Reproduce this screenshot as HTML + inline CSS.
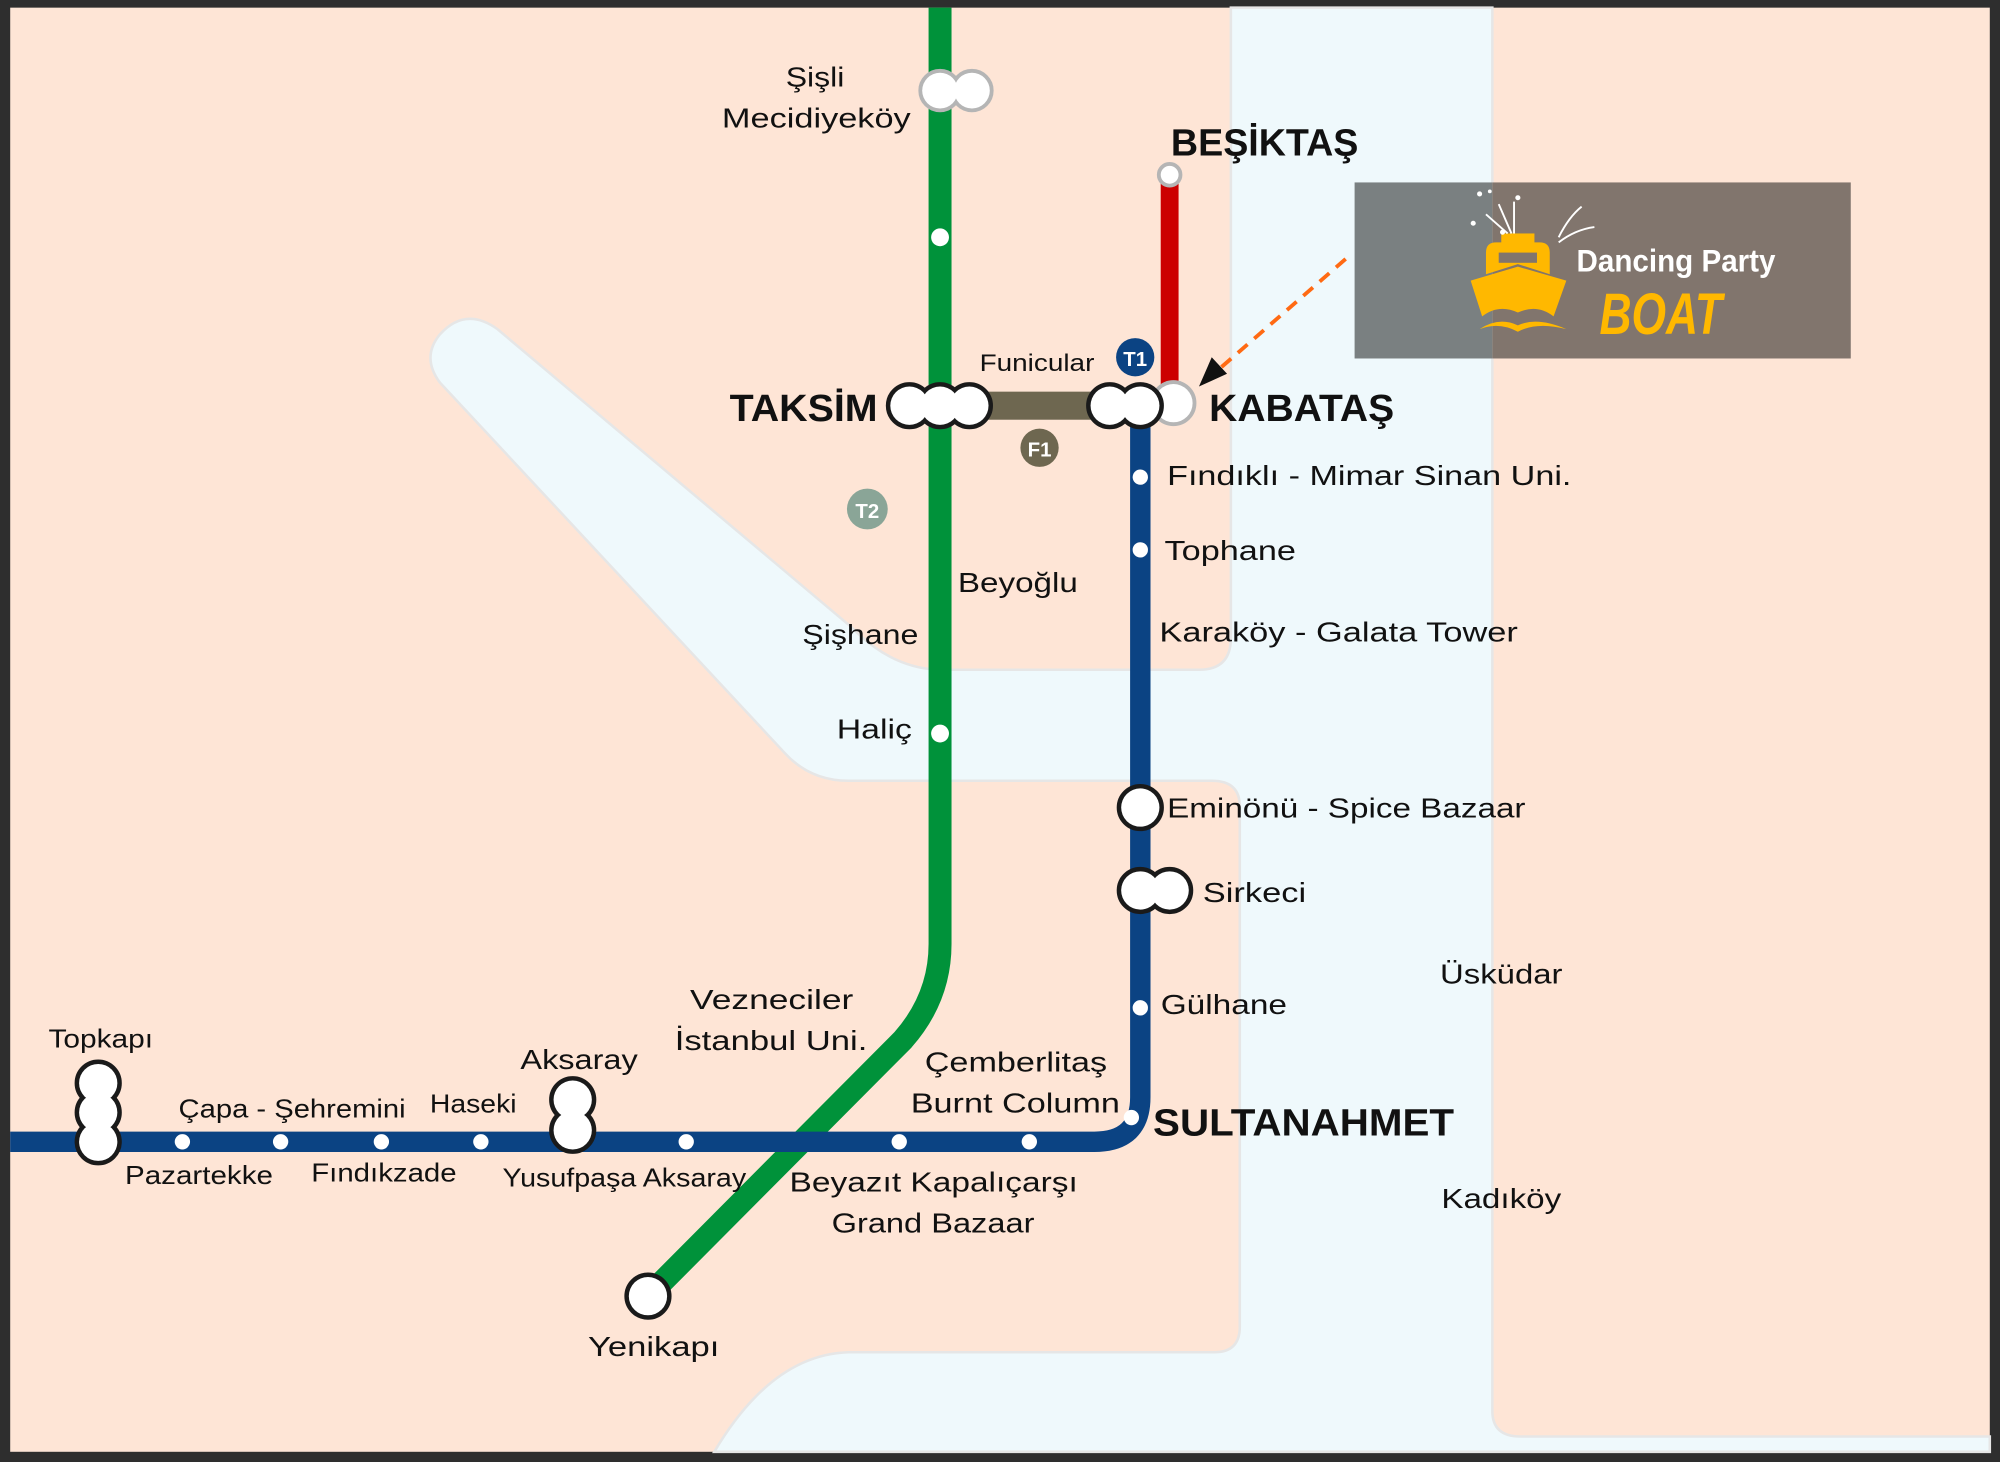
<!DOCTYPE html>
<html><head><meta charset="utf-8"><style>
html,body{margin:0;padding:0;background:#2e2e2e;}
svg{display:block;}
text{font-family:"Liberation Sans","DejaVu Sans",sans-serif;fill:#111;}
</style></head><body>
<svg width="2000" height="1462" viewBox="0 0 1568 1146" preserveAspectRatio="none" xmlns="http://www.w3.org/2000/svg">
<rect x="0" y="0" width="1568" height="1146" fill="#2e2e2e"/>
<rect x="8" y="6" width="1552" height="1132" fill="#fee5d6"/>
<!-- water -->
<path d="M965 6 L1170 6 L1170 1106 Q1170 1126 1192 1126 L1560 1126 L1560 1138 L560 1138 Q605 1062 665 1060 L952 1060 Q972 1060 972 1040 L972 632 Q972 612 950 612 L665 612 Q635 612 615 590 L345 300 Q330 280 345 262 Q365 240 390 258 L668 492 Q698 523 735 525 L940 525 Q965 525 965 500 Z" fill="#eff9fc" stroke="#e6e6e6" stroke-width="2"/>
<!-- lines -->
<path d="M737 6 L737 740 Q737 782 708 815 L508 1016" fill="none" stroke="#00923a" stroke-width="18"/>
<path d="M8 895 L858 895 Q894 895 894 860 L894 318" fill="none" stroke="#0b4383" stroke-width="16"/>
<rect x="910" y="137" width="14" height="178" fill="#cc0000"/>
<rect x="760" y="307" width="112" height="22" fill="#6e6750"/>
<!-- line badges -->
<circle cx="890" cy="280" r="15" fill="#0b4383"/><text x="890" y="287" font-size="16" font-weight="bold" text-anchor="middle" style="fill:#fff">T1</text>
<circle cx="815" cy="351" r="15" fill="#6e6750"/><text x="815" y="358" font-size="16" font-weight="bold" text-anchor="middle" style="fill:#fff">F1</text>
<circle cx="680" cy="399" r="16" fill="#8aa597"/><text x="680" y="406" font-size="16" font-weight="bold" text-anchor="middle" style="fill:#fff">T2</text>
<!-- small stations -->
<g fill="#fff">
<circle cx="737" cy="186" r="7"/><circle cx="737" cy="575" r="7"/>
<circle cx="894" cy="374" r="6"/><circle cx="894" cy="431" r="6"/><circle cx="894" cy="790" r="6"/><circle cx="887" cy="876" r="6"/>
<circle cx="143" cy="895" r="6"/><circle cx="220" cy="895" r="6"/><circle cx="299" cy="895" r="6"/><circle cx="377" cy="895" r="6"/><circle cx="538" cy="895" r="6"/><circle cx="705" cy="895" r="6"/><circle cx="807" cy="895" r="6"/>
</g>
<!-- gray interchanges -->
<g stroke="#b5b5b5" stroke-width="6"><circle cx="737" cy="71" r="14"/><circle cx="762" cy="71" r="14"/><circle cx="920" cy="316" r="15"/><circle cx="917" cy="137" r="7"/></g>
<g fill="#fff"><circle cx="737" cy="71" r="14"/><circle cx="762" cy="71" r="14"/><circle cx="920" cy="316" r="15"/><circle cx="917" cy="137" r="7"/></g>
<!-- black interchanges -->
<g stroke="#1a1a1a" stroke-width="7" fill="#1a1a1a">
<circle cx="713" cy="318" r="15"/><circle cx="737" cy="318" r="15"/><circle cx="760" cy="318" r="15"/>
<circle cx="870" cy="318" r="15"/><circle cx="894" cy="318" r="15"/>
<circle cx="894" cy="633" r="15"/>
<circle cx="894" cy="698" r="15"/><circle cx="917" cy="698" r="15"/>
<circle cx="77" cy="849" r="15"/><circle cx="77" cy="872" r="15"/><circle cx="77" cy="895" r="15"/>
<circle cx="449" cy="862" r="15"/><circle cx="449" cy="886" r="15"/>
<circle cx="508" cy="1016" r="15"/>
</g>
<g fill="#fff">
<circle cx="713" cy="318" r="15"/><circle cx="737" cy="318" r="15"/><circle cx="760" cy="318" r="15"/>
<circle cx="870" cy="318" r="15"/><circle cx="894" cy="318" r="15"/>
<circle cx="894" cy="633" r="15"/>
<circle cx="894" cy="698" r="15"/><circle cx="917" cy="698" r="15"/>
<circle cx="77" cy="849" r="15"/><circle cx="77" cy="872" r="15"/><circle cx="77" cy="895" r="15"/>
<circle cx="449" cy="862" r="15"/><circle cx="449" cy="886" r="15"/>
<circle cx="508" cy="1016" r="15"/>
</g>
<!-- boat box -->
<rect x="1062" y="143" width="108" height="138" fill="#7a8081"/>
<rect x="1170" y="143" width="281" height="138" fill="#81756d"/>
<g fill="#ffb800">
<rect x="1177" y="183" width="26" height="10"/>
<path d="M1165 198 Q1165 190 1173 190 L1207 190 Q1215 190 1215 198 L1215 215 L1190 207 L1165 215 Z"/>
<rect x="1175" y="198" width="30" height="8" fill="#81756d"/>
<path d="M1153 220 L1190 209 L1228 220 L1218 248 Q1205 238 1190 245 Q1175 238 1162 248 Z"/>
<path d="M1160 258 Q1175 248 1190 255 Q1205 248 1228 258 Q1205 252 1190 260 Q1175 252 1160 258 Z"/>
</g>
<g stroke="#fff" stroke-width="1.5" fill="none">
<path d="M1185 183 L1175 160 M1187 183 L1187 158 M1182 183 L1165 168"/>
<path d="M1222 186 Q1230 170 1240 162 M1222 190 Q1235 180 1250 178"/>
</g>
<g fill="#fff"><circle cx="1160" cy="152" r="2"/><circle cx="1190" cy="155" r="2"/><circle cx="1155" cy="175" r="2"/><circle cx="1168" cy="150" r="1.5"/><circle cx="1178" cy="182" r="2"/></g>
<text x="1236" y="213" font-size="25" font-weight="bold" textLength="156" lengthAdjust="spacingAndGlyphs" style="fill:#fff">Dancing Party</text>
<text x="1254" y="262" font-size="46" font-weight="bold" font-style="italic" textLength="96" lengthAdjust="spacingAndGlyphs" style="fill:#ffb800">BOAT</text>
<!-- arrow -->
<line x1="1055" y1="203" x2="955" y2="290" stroke="#ff6a13" stroke-width="3" stroke-dasharray="10,7"/>
<path d="M940 303 L950 280 L962 293 Z" fill="#111"/>
<!-- labels -->
<g font-size="22">
<text x="616" y="68" textLength="46" lengthAdjust="spacingAndGlyphs">Şişli</text>
<text x="566" y="100" textLength="148" lengthAdjust="spacingAndGlyphs">Mecidiyeköy</text>
<text x="768" y="291" font-size="19" textLength="90" lengthAdjust="spacingAndGlyphs">Funicular</text>
<text x="915" y="380" textLength="317" lengthAdjust="spacingAndGlyphs">Fındıklı - Mimar Sinan Uni.</text>
<text x="913" y="439" textLength="103" lengthAdjust="spacingAndGlyphs">Tophane</text>
<text x="751" y="464" textLength="94" lengthAdjust="spacingAndGlyphs">Beyoğlu</text>
<text x="629" y="505" textLength="91" lengthAdjust="spacingAndGlyphs">Şişhane</text>
<text x="909" y="503" textLength="281" lengthAdjust="spacingAndGlyphs">Karaköy - Galata Tower</text>
<text x="656" y="579" textLength="59" lengthAdjust="spacingAndGlyphs">Haliç</text>
<text x="915" y="641" textLength="281" lengthAdjust="spacingAndGlyphs">Eminönü - Spice Bazaar</text>
<text x="943" y="707" textLength="81" lengthAdjust="spacingAndGlyphs">Sirkeci</text>
<text x="1129" y="771" textLength="96" lengthAdjust="spacingAndGlyphs">Üsküdar</text>
<text x="910" y="795" textLength="99" lengthAdjust="spacingAndGlyphs">Gülhane</text>
<text x="541" y="791" textLength="128" lengthAdjust="spacingAndGlyphs">Vezneciler</text>
<text x="529" y="823" textLength="151" lengthAdjust="spacingAndGlyphs">İstanbul Uni.</text>
<text x="38" y="821" font-size="20" textLength="82" lengthAdjust="spacingAndGlyphs">Topkapı</text>
<text x="408" y="838" textLength="92" lengthAdjust="spacingAndGlyphs">Aksaray</text>
<text x="725" y="840" textLength="143" lengthAdjust="spacingAndGlyphs">Çemberlitaş</text>
<text x="714" y="872" textLength="164" lengthAdjust="spacingAndGlyphs">Burnt Column</text>
<text x="140" y="876" font-size="20" textLength="178" lengthAdjust="spacingAndGlyphs">Çapa - Şehremini</text>
<text x="337" y="872" font-size="20" textLength="68" lengthAdjust="spacingAndGlyphs">Haseki</text>
<text x="98" y="928" font-size="20" textLength="116" lengthAdjust="spacingAndGlyphs">Pazartekke</text>
<text x="244" y="926" font-size="20" textLength="114" lengthAdjust="spacingAndGlyphs">Fındıkzade</text>
<text x="394" y="930" font-size="20" textLength="191" lengthAdjust="spacingAndGlyphs">Yusufpaşa Aksaray</text>
<text x="619" y="934" textLength="226" lengthAdjust="spacingAndGlyphs">Beyazıt Kapalıçarşı</text>
<text x="652" y="966" textLength="159" lengthAdjust="spacingAndGlyphs">Grand Bazaar</text>
<text x="1130" y="947" textLength="94" lengthAdjust="spacingAndGlyphs">Kadıköy</text>
<text x="461" y="1063" textLength="103" lengthAdjust="spacingAndGlyphs">Yenikapı</text>
</g>
<g font-size="30" font-weight="bold">
<text x="918" y="122" textLength="147" lengthAdjust="spacingAndGlyphs">BEŞİKTAŞ</text>
<text x="572" y="330" textLength="116" lengthAdjust="spacingAndGlyphs">TAKSİM</text>
<text x="948" y="330" textLength="145" lengthAdjust="spacingAndGlyphs">KABATAŞ</text>
<text x="904" y="890" textLength="236" lengthAdjust="spacingAndGlyphs">SULTANAHMET</text>
</g>
</svg>
</body></html>
